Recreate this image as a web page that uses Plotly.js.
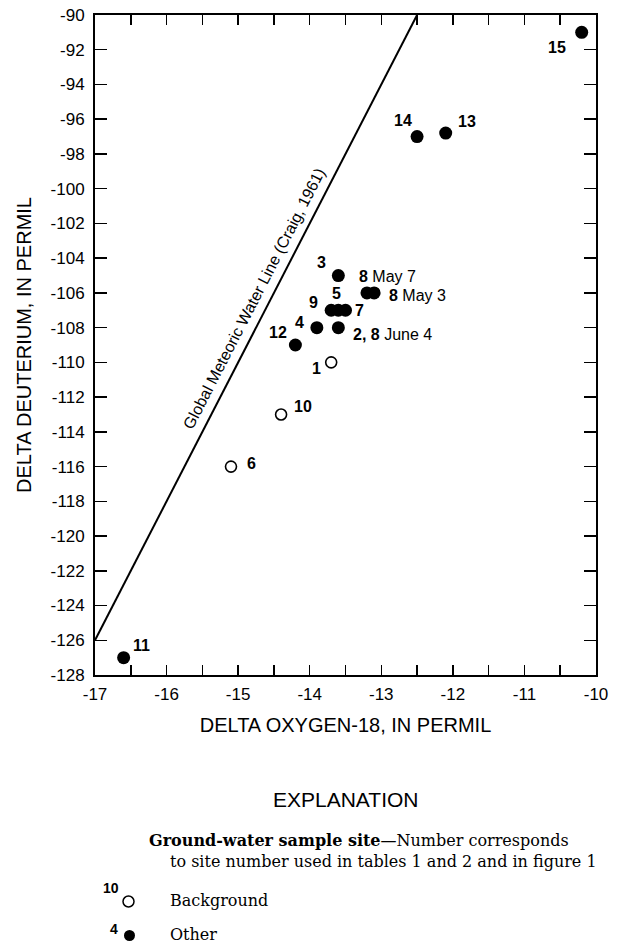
<!DOCTYPE html>
<html>
<head>
<meta charset="utf-8">
<script src="https://cdn.plot.ly/plotly-3.0.1.min.js"></script>
<style>html,body{margin:0;padding:0;background:#fff;}#chart{width:620px;height:946px;}</style>
</head>
<body>
<div id="chart"></div>
<script>
// ---- data ----
const bgO18 = [-13.7, -14.4, -15.1];
const bgD = [-110, -113, -116];
const bgSites = ['1', '10', '6'];

const otO18 = [-10.2, -12.5, -12.1, -13.6, -13.2, -13.1, -13.7, -13.6, -13.5, -13.9, -13.6, -14.2, -16.6];
const otD = [-91, -97, -96.8, -105, -106, -106, -107, -107, -107, -108, -108, -109, -127];
const otSites = ['15', '14', '13', '3', '', '<b>8</b> May 3', '9', '5', '7', '4', '<b>2, 8</b> June 4', '12', '11'];
const otExtra = ['', '', '', '<b>8</b> May 7', '', '', '', '', '', '', '', '', ''];

const gmwlO18 = [-17, -12.5];
const gmwlD = [-126, -90];
const gmwlLabel = 'Global Meteoric Water Line (Craig, 1961)';

const xTicks = [-17, -16, -15, -14, -13, -12, -11, -10];
const yTicks = [-128, -126, -124, -122, -120, -118, -116, -114, -112, -110, -108, -106, -104, -102, -100, -98, -96, -94, -92, -90];

// ---- label placement (pixels: dx right, dy down, anchor) ----
const bgLab = [[-15, 6, 'center'], [22, -8, 'center'], [21, -3, 'center']];
const otLab = [[-25, 15, 'center'], [-14, -16, 'center'], [21, -12, 'center'], [-17, -13, 'center'],
  null, [13, 3, 'left'], [-18, -8, 'center'], [-2, -17, 'center'], [14, 0, 'center'],
  [-17, -5, 'center'], [13, 7, 'left'], [-17, -13, 'center'], [18, -12, 'center']];
const otExtraLab = [null, null, null, [19, 1, 'left'], null, null, null, null, null, null, null, null, null];

const SANS = 'Liberation Sans, Arial, Helvetica, sans-serif';
const SERIF = 'DejaVu Serif, serif';

const traces = [
  {x: gmwlO18, y: gmwlD, mode: 'lines', line: {color: '#000', width: 2}, hoverinfo: 'skip', showlegend: false},
  {x: bgO18, y: bgD, mode: 'markers', marker: {symbol: 'circle-open', size: 11, color: '#000', line: {width: 1.6, color: '#000'}}, showlegend: false},
  {x: otO18, y: otD, mode: 'markers', marker: {symbol: 'circle', size: 13, color: '#000', line: {width: 0}}, showlegend: false}
];

const annotations = [];
function addLab(x, y, text, spec, bold) {
  if (!spec || !text) return;
  annotations.push({x: x, y: y, xref: 'x', yref: 'y', text: bold ? '<b>' + text + '</b>' : text,
    showarrow: false, xshift: spec[0], yshift: -spec[1], xanchor: spec[2], yanchor: 'middle',
    font: {family: SANS, size: 16, color: '#000'}});
}
bgSites.forEach((t, i) => addLab(bgO18[i], bgD[i], t, bgLab[i], true));
otSites.forEach((t, i) => addLab(otO18[i], otD[i], t, otLab[i], t.indexOf('<b>') < 0));
otExtra.forEach((t, i) => addLab(otO18[i], otD[i], t, otExtraLab[i], false));

// GMWL label along the line
annotations.push({x: -14.78, y: -106.3, xref: 'x', yref: 'y', text: gmwlLabel, showarrow: false,
  textangle: -62.75, font: {family: SANS, size: 16, color: '#000'}});

// Explanation block (paper coords; plot area 95..596 x, 15..675 y)
const W = 501, H = 660;
const px = v => (v - 95) / W;
const py = v => (675 - v) / H;
annotations.push({x: px(345), y: py(799), xref: 'paper', yref: 'paper', text: 'EXPLANATION', showarrow: false,
  xanchor: 'center', yanchor: 'middle', font: {family: SANS, size: 21, color: '#000'}});
annotations.push({x: px(147), y: py(840), xref: 'paper', yref: 'paper',
  text: '<b>Ground-water sample site</b>\u2014Number corresponds', showarrow: false,
  xanchor: 'left', yanchor: 'middle', font: {family: SERIF, size: 16, color: '#000'}});
annotations.push({x: px(168), y: py(862), xref: 'paper', yref: 'paper',
  text: 'to site number used in tables 1 and 2 and in figure 1', showarrow: false,
  xanchor: 'left', yanchor: 'middle', font: {family: SERIF, size: 16, color: '#000'}});
annotations.push({x: px(111), y: py(888), xref: 'paper', yref: 'paper', text: '<b>10</b>', showarrow: false,
  xanchor: 'center', yanchor: 'middle', font: {family: SANS, size: 14, color: '#000'}});
annotations.push({x: px(168), y: py(900), xref: 'paper', yref: 'paper', text: 'Background', showarrow: false,
  xanchor: 'left', yanchor: 'middle', font: {family: SERIF, size: 16, color: '#000'}});
annotations.push({x: px(114), y: py(929), xref: 'paper', yref: 'paper', text: '<b>4</b>', showarrow: false,
  xanchor: 'center', yanchor: 'middle', font: {family: SANS, size: 14, color: '#000'}});
annotations.push({x: px(168), y: py(934), xref: 'paper', yref: 'paper', text: 'Other', showarrow: false,
  xanchor: 'left', yanchor: 'middle', font: {family: SERIF, size: 16, color: '#000'}});

const shapes = [
  {type: 'circle', xref: 'paper', yref: 'paper', x0: px(123), x1: px(134), y0: py(896), y1: py(907),
    line: {color: '#000', width: 1.5}, fillcolor: 'rgba(0,0,0,0)'},
  {type: 'circle', xref: 'paper', yref: 'paper', x0: px(124), x1: px(135), y0: py(930), y1: py(941),
    line: {color: '#000', width: 0}, fillcolor: '#000'}
];

const layout = {
  width: 620, height: 946,
  margin: {l: 95, r: 24, t: 15, b: 271},
  paper_bgcolor: '#fff', plot_bgcolor: '#fff',
  showlegend: false,
  font: {family: SANS, color: '#000'},
  xaxis: {
    range: [-17, -10], tickvals: xTicks, ticktext: xTicks.map(String),
    ticks: 'inside', ticklen: 10, tickwidth: 1.5, tickcolor: '#000',
    minor: {dtick: 0.5, ticks: 'inside', ticklen: 10, tickwidth: 1.5, tickcolor: '#000', showgrid: false},
    showline: true, linecolor: '#000', linewidth: 2, mirror: 'allticks',
    showgrid: false, zeroline: false, automargin: false,
    tickfont: {family: SANS, size: 17, color: '#000'}, ticklabelstandoff: 3,
    title: {text: 'DELTA OXYGEN-18, IN PERMIL', font: {family: SANS, size: 20, color: '#000'}, standoff: 15}
  },
  yaxis: {
    range: [-128, -90], tickvals: yTicks, ticktext: yTicks.map(String),
    ticks: 'inside', ticklen: 12, tickwidth: 1.5, tickcolor: '#000',
    showline: true, linecolor: '#000', linewidth: 2, mirror: 'allticks',
    showgrid: false, zeroline: false, automargin: false,
    tickfont: {family: SANS, size: 17, color: '#000'}, ticklabelstandoff: 5,
    title: {text: 'DELTA DEUTERIUM, IN PERMIL', font: {family: SANS, size: 20, color: '#000'}, standoff: 14}
  },
  annotations: annotations,
  shapes: shapes
};

Plotly.newPlot('chart', traces, layout, {displayModeBar: false, staticPlot: true});
</script>
</body>
</html>
